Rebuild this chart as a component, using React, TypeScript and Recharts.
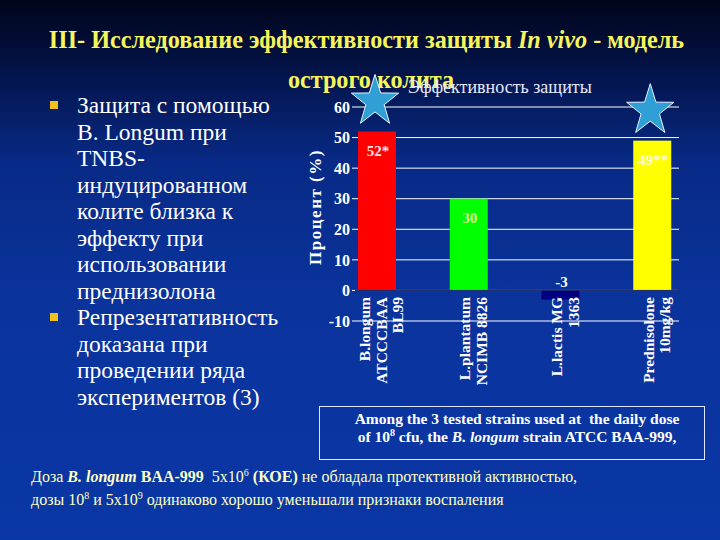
import { BarChart, Bar, XAxis, YAxis, CartesianGrid, ReferenceLine, LabelList } from 'recharts'

// chart values
const strainLabels = [
  ['B.longum', 'ATCCCBAA', 'BL99'],
  ['L.plantatum', 'NCIMB 8826'],
  ['L.lactis MG', '1363'],
  ['Prednisolone', '10mg/kg'],
]
const protection = [52, 30, -3, 49]
const valueLabels = ['52*', '30', '-3', '49**']
const starred = [true, false, false, true]
const yTicks = [-10, 0, 10, 20, 30, 40, 50, 60]

const BAR_COLORS = ['#ff0000', '#00ff00', '#000080', '#ffff00']
const LABEL_COLORS = ['#ffe6e6', '#d8ff8a', '#ffffff', '#fffbd0']

const bulletLines = [
  ['Защита с помощью', 'B. Longum при', 'TNBS-', 'индуцированном', 'колите близка к', 'эффекту при', 'использовании', 'преднизолона'],
  ['Репрезентативность', 'доказана при', 'проведении ряда', 'экспериментов (3)'],
]

const data = protection.map((v, i) => ({
  name: strainLabels[i].join(' '),
  lines: strainLabels[i],
  value: v,
  label: valueLabels[i],
  star: starred[i],
  color: BAR_COLORS[i],
  labelColor: LABEL_COLORS[i],
}))

const SERIF = "'Liberation Serif', 'DejaVu Serif', serif"
const supStyle = { fontSize: 10, lineHeight: 0 }

function starPoints(cx: number, cy: number, R: number, r: number) {
  const pts: string[] = []
  for (let k = 0; k < 10; k++) {
    const rad = k % 2 === 0 ? R : r
    const a = -Math.PI / 2 + (k * Math.PI) / 5
    pts.push(`${cx + rad * 0.92 * Math.cos(a)},${cy + rad * Math.sin(a)}`)
  }
  return pts.join(' ')
}

const BarShape = (props: any) => {
  const { x, y, width, height, payload } = props
  const top = Math.min(y, y + height)
  const h = Math.abs(height)
  return (
    <g>
      <rect x={x} y={top} width={width} height={h} fill={payload.color} />
      {payload.star && (
        <polygon
          points={starPoints(x + width / 2 - 2, top - 30, 27, 10.5)}
          fill="#2f9fd6"
          stroke="#e8f4ff"
          strokeWidth={1}
        />
      )}
    </g>
  )
}

const ValueLabel = (props: any) => {
  const { x, y, width, height, index } = props
  const row = data[index]
  const top = Math.min(y, y + height)
  const ly = row.value < 0 ? top - 7 : top + 21
  return (
    <text x={x + width / 2 + 1} y={ly} textAnchor="middle" dominantBaseline="middle"
      fill={row.labelColor} fontFamily={SERIF} fontWeight={700} fontSize={15}>
      {row.label}
    </text>
  )
}

const StrainTick = (props: any) => {
  const { x, y, index } = props
  const lines: string[] = data[index].lines
  const y0 = y - 32
  return (
    <g>
      {lines.map((ln, i) => {
        const bx = x + 10 + (i - (lines.length - 1) / 2) * 16.5
        return (
          <text key={i} x={bx} y={y0} transform={`rotate(-90, ${bx}, ${y0})`} textAnchor="end"
            fill="#ffffff" fontFamily={SERIF} fontWeight={700} fontSize={15.5}>
            {ln}
          </text>
        )
      })}
    </g>
  )
}

export default function App() {
  return (
    <div style={{
      position: 'absolute', left: 0, top: 0, width: 720, height: 540, overflow: 'hidden',
      fontFamily: SERIF,
      background: 'linear-gradient(180deg, #01051a 0%, #031245 12%, #082a86 30%, #0a339c 55%, #0a37a6 100%)',
    }}>
      {/* title */}
      <div style={{ position: 'absolute', left: 0, width: 733, top: 26, textAlign: 'center', color: '#f6f65c', fontWeight: 700, fontSize: 24.2, lineHeight: '28px', whiteSpace: 'nowrap' }}>
        III- Исследование эффективности защиты <i>In vivo</i> - модель
      </div>
      <div style={{ position: 'absolute', left: 0, width: 742, top: 66, textAlign: 'center', color: '#f6f65c', fontWeight: 700, fontSize: 24.2, lineHeight: '28px', whiteSpace: 'nowrap' }}>
        острого колита
      </div>

      {/* bullets */}
      {(() => {
        let row = 0
        return bulletLines.map((group, g) => (
          <div key={g}>
            <div style={{ position: 'absolute', left: 50, top: 101 + row * 26.5, width: 8, height: 8, background: '#f2c21a' }} />
            {group.map((ln) => {
              const top = 91 + row * 26.5
              row++
              return (
                <div key={ln} style={{ position: 'absolute', left: 77, top, color: '#ffffff', fontSize: 23.5, lineHeight: '28px', whiteSpace: 'nowrap' }}>
                  {ln}
                </div>
              )
            })}
          </div>
        ))
      })()}

      {/* chart title and y label */}
      <div style={{ position: 'absolute', left: 408, top: 77, color: '#e6eaff', fontSize: 18, lineHeight: '20px', whiteSpace: 'nowrap' }}>
        Эффективность защиты
      </div>
      <div style={{ position: 'absolute', left: 316, top: 207, transform: 'translate(-50%, -50%) rotate(-90deg)', color: '#ffffff', fontWeight: 700, fontSize: 17, letterSpacing: 1.5, whiteSpace: 'nowrap' }}>
        Процент (%)
      </div>

      <div style={{ position: 'absolute', left: 0, top: 0 }}>
        <BarChart width={720} height={540} data={data} margin={{ top: 107, right: 41, left: 295, bottom: 189 }}>
          <CartesianGrid vertical={false} stroke="#ffffff" strokeWidth={1} />
          <XAxis dataKey="name" axisLine={false} tickLine={false} height={30} interval={0}
            padding={{ left: -24, right: -19 }} tick={<StrainTick />} />
          <YAxis domain={[-10, 60]} ticks={yTicks} width={60} axisLine={false}
            tickLine={{ stroke: '#ffffff' }} tickSize={3} tickMargin={2}
            tick={{ fill: '#ffffff', fontFamily: SERIF, fontWeight: 700, fontSize: 16 }} />
          <YAxis yAxisId="frame" orientation="right" domain={[-10, 60]} width={0} tick={false} tickLine={false}
            axisLine={{ stroke: '#ffffff', strokeWidth: 1 }} />
          <ReferenceLine y={0} stroke="#14236a" strokeWidth={1} />
          <Bar dataKey="value" barSize={38} shape={<BarShape />} isAnimationActive={false}>
            <LabelList dataKey="label" content={<ValueLabel />} />
          </Bar>
        </BarChart>
      </div>

      {/* quote box */}
      <div style={{ position: 'absolute', left: 319, top: 406, width: 386, height: 54, border: '1px solid #dfe6ff', boxSizing: 'border-box' }} />
      <div style={{ position: 'absolute', left: 319, width: 396, top: 410, textAlign: 'center', color: '#ffffff', fontWeight: 700, fontSize: 15.5, lineHeight: '18px', whiteSpace: 'nowrap' }}>
        Among the 3 tested strains used at&nbsp; the daily dose<br />
        of 10<sup style={{ fontSize: 10, lineHeight: 0 }}>8</sup> cfu, the <i>B. longum</i> strain ATCC BAA-999,
      </div>

      {/* footnotes */}
      <div style={{ position: 'absolute', left: 31, top: 468, color: '#ffffc4', fontSize: 16, lineHeight: '18px', whiteSpace: 'nowrap' }}>
        Доза <b><i>B. longum</i> BAA-999</b>&nbsp; 5x10<sup style={supStyle}>6</sup> <b>(КОЕ)</b> не обладала протективной активностью,
      </div>
      <div style={{ position: 'absolute', left: 31, top: 491, color: '#ffffc4', fontSize: 16, lineHeight: '18px', whiteSpace: 'nowrap' }}>
        дозы 10<sup style={supStyle}>8</sup> и 5x10<sup style={supStyle}>9</sup> одинаково хорошо уменьшали признаки воспаления
      </div>
    </div>
  )
}
